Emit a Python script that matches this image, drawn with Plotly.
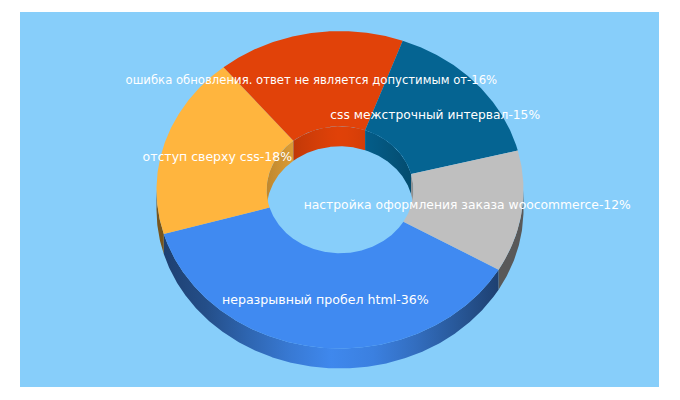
import numpy as np
import plotly.graph_objects as go

labels = ["неразрывный пробел html", "отступ сверху css",
          "ошибка обновления. ответ не является допустимым от",
          "css межстрочный интервал", "настройка оформления заказа woocommerce"]
values = [36, 18, 16, 15, 12]
colors = ["#408AF1", "#FFB53E", "#E14209", "#056492", "#BFBFBF"]
label_shift = [1, 0, -7, 0, 0]
label_drop = [1, 1, 1, 0.5, 0.5]
label_size = [12.6, 12.5, 11.65, 12.25, 12.35]

START = 120.2
CX, CY, RX, RY, DEPTH, HOLE = 340.0, 189.8, 183.5, 158.7, 20.0, 0.4
BG = "#87CEFA"


def rgb(h):
    return np.array([int(h[i:i + 2], 16) for i in (1, 3, 5)], float)


def arc(a0, a1, k, dy=0.0, n=None):
    n = n or max(2, int(abs(a1 - a0) * 2))
    t = np.radians(np.linspace(a0, a1, n))
    return CX + k * RX * np.sin(t), CY + dy - k * RY * np.cos(t)


def gradient(col, x0, x1, k, strength, power, cap):
    stops = []
    for f in np.linspace(0, 1, 9):
        x = x0 + (x1 - x0) * f
        t = abs(x - CX) / (k * RX)
        c = rgb(col) * (1 - min(cap, strength * t ** power))
        stops.append([float(f), "rgb(%d,%d,%d)" % tuple(c)])
    return dict(type="horizontal", colorscale=stops, start=float(x0), stop=float(x1))


def wall(col, a0, a1, k, strength, power, cap):
    xa, ya = arc(a0, a1, k)
    xb, yb = arc(a0, a1, k, DEPTH)
    x = np.r_[xa, xb[::-1], xa[0]]
    y = np.r_[ya, yb[::-1], ya[0]]
    return go.Scatter(x=x, y=y, mode="lines", fill="toself", line=dict(width=0),
                      fillgradient=gradient(col, x.min(), x.max(), k, strength, power, cap),
                      hoverinfo="skip", showlegend=False)


total = sum(values)
spans = [v / total * 360 for v in values]
starts = START + np.r_[0, np.cumsum(spans)[:-1]]

fig = go.Figure()

# outer walls (front half) and inner walls (back half)
for s, sp, c in zip(starts, spans, colors):
    for off in (0, 360, -360):
        a0, a1 = s + off, s + sp + off
        lo, hi = max(a0, 90), min(a1, 270)
        if lo < hi:
            fig.add_trace(wall(c, lo, hi, 1, 0.65, 1.3, 0.53))
        lo, hi = max(a0, 270), min(a1, 450)
        if lo < hi:
            fig.add_trace(wall(c, lo, hi, HOLE, 0.25, 1.3, 0.3))

# top faces
for s, sp, c in zip(starts, spans, colors):
    xo, yo = arc(s, s + sp, 1)
    xi, yi = arc(s + sp, s, HOLE)
    fig.add_trace(go.Scatter(x=np.r_[xo, xi, xo[0]], y=np.r_[yo, yi, yo[0]], mode="lines",
                             fill="toself", fillcolor=c, line=dict(width=0),
                             hoverinfo="skip", showlegend=False))

# labels
mids = np.radians(starts + np.array(spans) / 2)
lr = (1 + HOLE) / 2
fig.add_trace(go.Scatter(
    x=CX + lr * RX * np.sin(mids) + np.array(label_shift),
    y=CY - lr * RY * np.cos(mids) + np.array(label_drop),
    mode="text", textposition="middle center",
    text=[f"{n}-{v}%" for n, v in zip(labels, values)],
    textfont=dict(family="DejaVu Sans", size=label_size, color="white"),
    hoverinfo="skip", showlegend=False, cliponaxis=False))

# the page adds an 8px body margin, so the figure is offset by that amount
fig.update_layout(
    width=664, height=384, autosize=False,
    margin=dict(l=12, r=13, t=4, b=5),
    paper_bgcolor="white", plot_bgcolor=BG, showlegend=False,
    xaxis=dict(range=[20, 659], visible=False, fixedrange=True),
    yaxis=dict(range=[387, 12], visible=False, fixedrange=True),
)
fig.write_html("out.html", config=dict(displayModeBar=False))
